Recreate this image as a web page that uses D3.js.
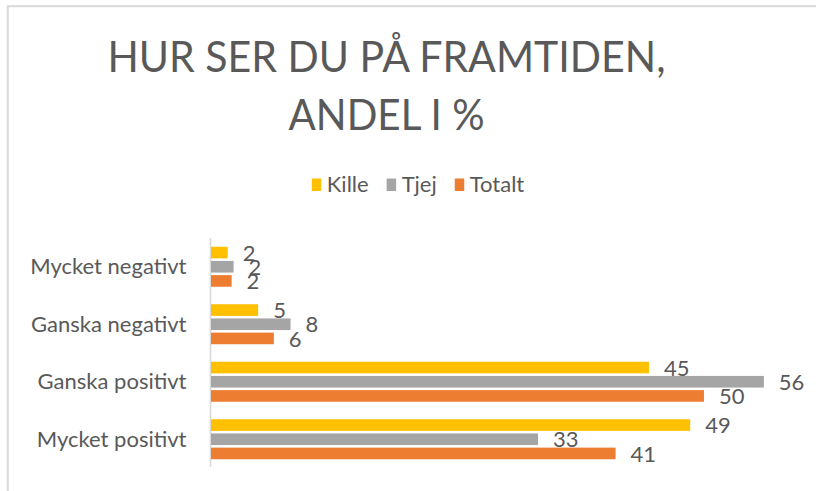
<!DOCTYPE html>
<html>
<head>
<meta charset="utf-8">
<script src="https://cdn.jsdelivr.net/npm/d3@7"></script>
<style>
  html, body { margin: 0; padding: 0; background: #fff; }
  svg { display: block; font-family: Lato, "Open Sans", sans-serif; }
</style>
</head>
<body>
<div id="chart"></div>
<script>
// Data (top to bottom as shown)
const categories = ['Mycket negativt', 'Ganska negativt', 'Ganska positivt', 'Mycket positivt'];
const seriesNames = ['Kille', 'Tjej', 'Totalt'];
const killeValues = [1.7, 4.8, 44.6, 48.8];
const tjejValues = [2.3, 8.1, 56.3, 33.3];
const totaltValues = [2.1, 6.4, 50.2, 41.2];
const titleLines = ['HUR SER DU PÅ FRAMTIDEN,', 'ANDEL I %'];

const colors = ['#FFC000', '#A5A5A5', '#ED7D31'];
const textColor = '#595959';
const width = 816, height = 491;

const series = [killeValues, tjejValues, totaltValues].map((values, i) => ({
    name: seriesNames[i],
    color: colors[i],
    values: values
}));

const svg = d3.select('#chart').append('svg')
    .attr('width', width)
    .attr('height', height);

// chart frame (only top and left edges are visible)
svg.append('rect')
    .attr('x', 7.8).attr('y', 6.2)
    .attr('width', 1000).attr('height', 1000)
    .attr('fill', '#fff')
    .attr('stroke', '#d9d9d9')
    .attr('stroke-width', 2);

// Title
svg.append('g').selectAll('text')
    .data(titleLines)
    .join('text')
    .attr('x', 386.5)
    .attr('y', (d, i) => 72 + i * 58)
    .attr('text-anchor', 'middle')
    .attr('fill', textColor)
    .attr('font-size', 43)
    .attr('textLength', (d, i) => i === 0 ? 558 : 196)
    .attr('lengthAdjust', 'spacingAndGlyphs')
    .text(d => d);

// Legend
const legend = svg.append('g');
let lx = 0;
series.forEach(s => {
    const item = legend.append('g').attr('transform', `translate(${lx},0)`);
    item.append('rect')
        .attr('x', 0).attr('y', -13)
        .attr('width', 9.5).attr('height', 12.5)
        .attr('fill', s.color);
    const t = item.append('text')
        .attr('x', 15)
        .attr('fill', textColor)
        .attr('font-size', 22)
        .text(s.name);
    lx += 15 + t.node().getComputedTextLength() + 18;
});
lx -= 18;
legend.attr('transform', `translate(${418 - lx / 2},191.5)`);

// Scales
const margin = { left: 211, top: 238, bottom: 468 };
const x = d3.scaleLinear().domain([0, 60]).range([margin.left, 800.2]);
const y = d3.scaleBand().domain(categories).range([margin.top, margin.bottom]);
const inner = d3.scaleBand()
    .domain(seriesNames)
    .range([8.75, y.step() - 8.75])
    .paddingInner(0.18);

// Category axis
const yAxis = svg.append('g')
    .attr('transform', `translate(${margin.left - 0.5},0)`)
    .call(d3.axisLeft(y).tickSize(0).tickPadding(24));
yAxis.select('.domain')
    .attr('stroke', '#d9d9d9')
    .attr('stroke-width', 1.6)
    .attr('d', `M0,${margin.top}V${margin.bottom - 1}`);
yAxis.selectAll('.tick text')
    .attr('fill', textColor)
    .attr('font-size', 22)
    .attr('font-family', 'Lato, "Open Sans", sans-serif')
    .attr('dy', '0.35em');

// Bars + labels
const groups = svg.append('g').selectAll('g')
    .data(series)
    .join('g')
    .attr('fill', d => d.color);

groups.selectAll('rect')
    .data(s => s.values.map((v, i) => ({ name: s.name, cat: categories[i], v: v })))
    .join('rect')
    .attr('x', x(0))
    .attr('y', d => y(d.cat) + inner(d.name))
    .attr('width', d => x(d.v) - x(0))
    .attr('height', inner.bandwidth());

groups.selectAll('text')
    .data(s => s.values.map((v, i) => ({ name: s.name, cat: categories[i], v: v })))
    .join('text')
    .attr('x', d => x(d.v) + 15)
    .attr('y', d => y(d.cat) + inner(d.name) + inner.bandwidth() / 2)
    .attr('dy', '0.37em')
    .attr('fill', textColor)
    .attr('font-size', 22)
    .text(d => d3.format('.0f')(d.v));
</script>
</body>
</html>
